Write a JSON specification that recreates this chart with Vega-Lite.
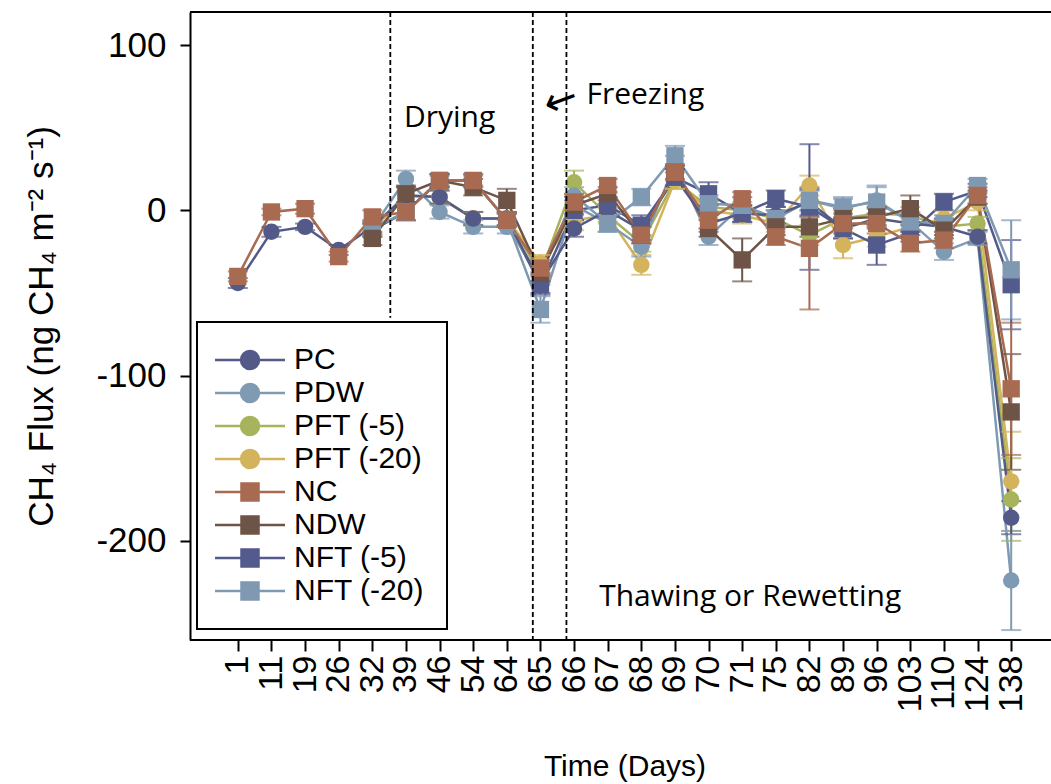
{
  "$schema": "https://vega.github.io/schema/vega-lite/v6.json",
  "autosize": "none",
  "padding": {"left": 190, "top": 12, "right": 0, "bottom": 144},
  "width": 861,
  "height": 628,
  "background": "white",
  "config": {
    "view": {"stroke": null},
    "font": "Liberation Sans",
    "axisX": {"titleFontSize": 30, "titleFontWeight": "normal", "titleColor": "black", "titlePadding": 40, "labelFontSize": 34, "labelAngle": 270, "labelPadding": 4, "labelColor": "black", "tickSize": 11, "tickWidth": 2, "tickColor": "black", "domain": false, "grid": false},
    "axisY": {"titleFontSize": 35, "titleFontWeight": "normal", "titleColor": "black", "titlePadding": 36, "labelFontSize": 35, "labelPadding": 14, "labelColor": "black", "tickSize": 10, "tickWidth": 2, "tickColor": "black", "domainColor": "black", "domainWidth": 2, "grid": false},
    "legend": {"title": null, "orient": "none", "legendX": 7, "legendY": 310, "padding": 23, "strokeColor": "black", "strokeWidth": 2, "fillColor": "white", "labelFontSize": 30, "labelFont": "Liberation Sans", "labelColor": "black", "labelLimit": 400, "symbolSize": 400, "symbolOffset": 15, "labelOffset": 29, "rowPadding": 3, "symbolStrokeWidth": 2.5, "symbolOpacity": 1}
  },
  "data": {"values": [
    {"treatment": "PFT (-5)", "day": 32, "flux": -12, "se": 4},
    {"treatment": "PFT (-5)", "day": 39, "flux": 9, "se": 5},
    {"treatment": "PFT (-5)", "day": 46, "flux": 8, "se": 4},
    {"treatment": "PFT (-5)", "day": 54, "flux": -5, "se": 4},
    {"treatment": "PFT (-5)", "day": 64, "flux": -5, "se": 4},
    {"treatment": "PFT (-5)", "day": 65, "flux": -38, "se": 5},
    {"treatment": "PFT (-5)", "day": 66, "flux": 17, "se": 7},
    {"treatment": "PFT (-5)", "day": 67, "flux": -3, "se": 4},
    {"treatment": "PFT (-5)", "day": 68, "flux": -20, "se": 5},
    {"treatment": "PFT (-5)", "day": 69, "flux": 18, "se": 5},
    {"treatment": "PFT (-5)", "day": 70, "flux": 2, "se": 5},
    {"treatment": "PFT (-5)", "day": 71, "flux": 0, "se": 5},
    {"treatment": "PFT (-5)", "day": 75, "flux": -5, "se": 5},
    {"treatment": "PFT (-5)", "day": 82, "flux": -15, "se": 6},
    {"treatment": "PFT (-5)", "day": 89, "flux": -5, "se": 5},
    {"treatment": "PFT (-5)", "day": 96, "flux": -2, "se": 5},
    {"treatment": "PFT (-5)", "day": 103, "flux": -3, "se": 5},
    {"treatment": "PFT (-5)", "day": 110, "flux": -10, "se": 5},
    {"treatment": "PFT (-5)", "day": 124, "flux": -8, "se": 4},
    {"treatment": "PFT (-5)", "day": 138, "flux": -175, "se": 25},
    {"treatment": "PFT (-20)", "day": 32, "flux": -12, "se": 4},
    {"treatment": "PFT (-20)", "day": 39, "flux": 9, "se": 5},
    {"treatment": "PFT (-20)", "day": 46, "flux": 8, "se": 4},
    {"treatment": "PFT (-20)", "day": 54, "flux": -5, "se": 4},
    {"treatment": "PFT (-20)", "day": 64, "flux": -5, "se": 4},
    {"treatment": "PFT (-20)", "day": 65, "flux": -32, "se": 5},
    {"treatment": "PFT (-20)", "day": 66, "flux": -6, "se": 6},
    {"treatment": "PFT (-20)", "day": 67, "flux": -3, "se": 5},
    {"treatment": "PFT (-20)", "day": 68, "flux": -33, "se": 6},
    {"treatment": "PFT (-20)", "day": 69, "flux": 18, "se": 5},
    {"treatment": "PFT (-20)", "day": 70, "flux": 0, "se": 5},
    {"treatment": "PFT (-20)", "day": 71, "flux": -3, "se": 5},
    {"treatment": "PFT (-20)", "day": 75, "flux": -8, "se": 5},
    {"treatment": "PFT (-20)", "day": 82, "flux": 15, "se": 6},
    {"treatment": "PFT (-20)", "day": 89, "flux": -21, "se": 8},
    {"treatment": "PFT (-20)", "day": 96, "flux": -16, "se": 6},
    {"treatment": "PFT (-20)", "day": 103, "flux": -10, "se": 5},
    {"treatment": "PFT (-20)", "day": 110, "flux": -5, "se": 5},
    {"treatment": "PFT (-20)", "day": 124, "flux": 5, "se": 5},
    {"treatment": "PFT (-20)", "day": 138, "flux": -164, "se": 30},
    {"treatment": "NFT (-5)", "day": 32, "flux": -12, "se": 4},
    {"treatment": "NFT (-5)", "day": 39, "flux": -1, "se": 5},
    {"treatment": "NFT (-5)", "day": 46, "flux": 18, "se": 4},
    {"treatment": "NFT (-5)", "day": 54, "flux": 18, "se": 4},
    {"treatment": "NFT (-5)", "day": 64, "flux": -6, "se": 4},
    {"treatment": "NFT (-5)", "day": 65, "flux": -45, "se": 6},
    {"treatment": "NFT (-5)", "day": 66, "flux": 0, "se": 6},
    {"treatment": "NFT (-5)", "day": 67, "flux": 3, "se": 5},
    {"treatment": "NFT (-5)", "day": 68, "flux": -9, "se": 6},
    {"treatment": "NFT (-5)", "day": 69, "flux": 20, "se": 5},
    {"treatment": "NFT (-5)", "day": 70, "flux": 10, "se": 7},
    {"treatment": "NFT (-5)", "day": 71, "flux": -2, "se": 5},
    {"treatment": "NFT (-5)", "day": 75, "flux": 7, "se": 5},
    {"treatment": "NFT (-5)", "day": 82, "flux": 2, "se": 38},
    {"treatment": "NFT (-5)", "day": 89, "flux": -11, "se": 6},
    {"treatment": "NFT (-5)", "day": 96, "flux": -21, "se": 12},
    {"treatment": "NFT (-5)", "day": 103, "flux": -14, "se": 5},
    {"treatment": "NFT (-5)", "day": 110, "flux": 5, "se": 5},
    {"treatment": "NFT (-5)", "day": 124, "flux": 12, "se": 4},
    {"treatment": "NFT (-5)", "day": 138, "flux": -45, "se": 27},
    {"treatment": "NFT (-20)", "day": 32, "flux": -11, "se": 4},
    {"treatment": "NFT (-20)", "day": 39, "flux": -1, "se": 5},
    {"treatment": "NFT (-20)", "day": 46, "flux": 18, "se": 4},
    {"treatment": "NFT (-20)", "day": 54, "flux": 18, "se": 4},
    {"treatment": "NFT (-20)", "day": 64, "flux": -6, "se": 4},
    {"treatment": "NFT (-20)", "day": 65, "flux": -60, "se": 8},
    {"treatment": "NFT (-20)", "day": 66, "flux": 3, "se": 6},
    {"treatment": "NFT (-20)", "day": 67, "flux": -8, "se": 5},
    {"treatment": "NFT (-20)", "day": 68, "flux": 8, "se": 5},
    {"treatment": "NFT (-20)", "day": 69, "flux": 33, "se": 6},
    {"treatment": "NFT (-20)", "day": 70, "flux": 4, "se": 5},
    {"treatment": "NFT (-20)", "day": 71, "flux": 3, "se": 5},
    {"treatment": "NFT (-20)", "day": 75, "flux": -5, "se": 5},
    {"treatment": "NFT (-20)", "day": 82, "flux": 6, "se": 6},
    {"treatment": "NFT (-20)", "day": 89, "flux": 2, "se": 6},
    {"treatment": "NFT (-20)", "day": 96, "flux": 5, "se": 10},
    {"treatment": "NFT (-20)", "day": 103, "flux": -7, "se": 6},
    {"treatment": "NFT (-20)", "day": 110, "flux": -8, "se": 5},
    {"treatment": "NFT (-20)", "day": 124, "flux": 15, "se": 4},
    {"treatment": "NFT (-20)", "day": 138, "flux": -36, "se": 30},
    {"treatment": "PDW", "day": 32, "flux": -11, "se": 4},
    {"treatment": "PDW", "day": 39, "flux": 19, "se": 5},
    {"treatment": "PDW", "day": 46, "flux": -1, "se": 4},
    {"treatment": "PDW", "day": 54, "flux": -10, "se": 4},
    {"treatment": "PDW", "day": 64, "flux": -10, "se": 4},
    {"treatment": "PDW", "day": 65, "flux": -40, "se": 5},
    {"treatment": "PDW", "day": 66, "flux": 9, "se": 5},
    {"treatment": "PDW", "day": 67, "flux": -8, "se": 5},
    {"treatment": "PDW", "day": 68, "flux": -22, "se": 6},
    {"treatment": "PDW", "day": 69, "flux": 28, "se": 5},
    {"treatment": "PDW", "day": 70, "flux": -16, "se": 5},
    {"treatment": "PDW", "day": 71, "flux": 3, "se": 5},
    {"treatment": "PDW", "day": 75, "flux": -5, "se": 5},
    {"treatment": "PDW", "day": 82, "flux": 6, "se": 6},
    {"treatment": "PDW", "day": 89, "flux": 1, "se": 6},
    {"treatment": "PDW", "day": 96, "flux": 6, "se": 8},
    {"treatment": "PDW", "day": 103, "flux": -7, "se": 5},
    {"treatment": "PDW", "day": 110, "flux": -25, "se": 5},
    {"treatment": "PDW", "day": 124, "flux": -17, "se": 4},
    {"treatment": "PDW", "day": 138, "flux": -224, "se": 30},
    {"treatment": "NDW", "day": 32, "flux": -17, "se": 4},
    {"treatment": "NDW", "day": 39, "flux": 10, "se": 5},
    {"treatment": "NDW", "day": 46, "flux": 18, "se": 4},
    {"treatment": "NDW", "day": 54, "flux": 14, "se": 5},
    {"treatment": "NDW", "day": 64, "flux": 6, "se": 7},
    {"treatment": "NDW", "day": 65, "flux": -38, "se": 5},
    {"treatment": "NDW", "day": 66, "flux": 3, "se": 5},
    {"treatment": "NDW", "day": 67, "flux": 10, "se": 4},
    {"treatment": "NDW", "day": 68, "flux": -15, "se": 5},
    {"treatment": "NDW", "day": 69, "flux": 23, "se": 4},
    {"treatment": "NDW", "day": 70, "flux": -11, "se": 5},
    {"treatment": "NDW", "day": 71, "flux": -30, "se": 13},
    {"treatment": "NDW", "day": 75, "flux": -10, "se": 5},
    {"treatment": "NDW", "day": 82, "flux": -10, "se": 6},
    {"treatment": "NDW", "day": 89, "flux": -5, "se": 6},
    {"treatment": "NDW", "day": 96, "flux": -4, "se": 6},
    {"treatment": "NDW", "day": 103, "flux": 1, "se": 8},
    {"treatment": "NDW", "day": 110, "flux": -12, "se": 5},
    {"treatment": "NDW", "day": 124, "flux": 8, "se": 4},
    {"treatment": "NDW", "day": 138, "flux": -122, "se": 35},
    {"treatment": "PC", "day": 1, "flux": -44, "se": 3},
    {"treatment": "PC", "day": 11, "flux": -13, "se": 3},
    {"treatment": "PC", "day": 19, "flux": -10, "se": 2},
    {"treatment": "PC", "day": 26, "flux": -24, "se": 3},
    {"treatment": "PC", "day": 32, "flux": -10, "se": 4},
    {"treatment": "PC", "day": 39, "flux": 9, "se": 5},
    {"treatment": "PC", "day": 46, "flux": 8, "se": 4},
    {"treatment": "PC", "day": 54, "flux": -5, "se": 4},
    {"treatment": "PC", "day": 64, "flux": -5, "se": 4},
    {"treatment": "PC", "day": 65, "flux": -44, "se": 6},
    {"treatment": "PC", "day": 66, "flux": -11, "se": 5},
    {"treatment": "PC", "day": 67, "flux": 0, "se": 4},
    {"treatment": "PC", "day": 68, "flux": -12, "se": 6},
    {"treatment": "PC", "day": 69, "flux": 20, "se": 5},
    {"treatment": "PC", "day": 70, "flux": -8, "se": 5},
    {"treatment": "PC", "day": 71, "flux": -2, "se": 5},
    {"treatment": "PC", "day": 75, "flux": -3, "se": 5},
    {"treatment": "PC", "day": 82, "flux": 5, "se": 8},
    {"treatment": "PC", "day": 89, "flux": -11, "se": 6},
    {"treatment": "PC", "day": 96, "flux": -5, "se": 6},
    {"treatment": "PC", "day": 103, "flux": -8, "se": 5},
    {"treatment": "PC", "day": 110, "flux": -10, "se": 5},
    {"treatment": "PC", "day": 124, "flux": -16, "se": 4},
    {"treatment": "PC", "day": 138, "flux": -186, "se": 10},
    {"treatment": "NC", "day": 1, "flux": -40, "se": 3},
    {"treatment": "NC", "day": 11, "flux": -1, "se": 2},
    {"treatment": "NC", "day": 19, "flux": 1, "se": 3},
    {"treatment": "NC", "day": 26, "flux": -28, "se": 3},
    {"treatment": "NC", "day": 32, "flux": -4, "se": 4},
    {"treatment": "NC", "day": 39, "flux": -1, "se": 5},
    {"treatment": "NC", "day": 46, "flux": 18, "se": 3},
    {"treatment": "NC", "day": 54, "flux": 18, "se": 3},
    {"treatment": "NC", "day": 64, "flux": -6, "se": 4},
    {"treatment": "NC", "day": 65, "flux": -35, "se": 5},
    {"treatment": "NC", "day": 66, "flux": 5, "se": 5},
    {"treatment": "NC", "day": 67, "flux": 15, "se": 4},
    {"treatment": "NC", "day": 68, "flux": -15, "se": 5},
    {"treatment": "NC", "day": 69, "flux": 23, "se": 5},
    {"treatment": "NC", "day": 70, "flux": -6, "se": 5},
    {"treatment": "NC", "day": 71, "flux": 7, "se": 4},
    {"treatment": "NC", "day": 75, "flux": -16, "se": 5},
    {"treatment": "NC", "day": 82, "flux": -23, "se": 37},
    {"treatment": "NC", "day": 89, "flux": -8, "se": 6},
    {"treatment": "NC", "day": 96, "flux": -8, "se": 6},
    {"treatment": "NC", "day": 103, "flux": -20, "se": 5},
    {"treatment": "NC", "day": 110, "flux": -18, "se": 5},
    {"treatment": "NC", "day": 124, "flux": 9, "se": 5},
    {"treatment": "NC", "day": 138, "flux": -108, "se": 40}
  ]},
  "layer": [
    {
      "data": {"values": [{}]},
      "mark": {"type": "rule", "color": "black", "strokeWidth": 2},
      "encoding": {"y": {"datum": 120}}
    },
    {
      "data": {"values": [{}]},
      "mark": {"type": "rule", "color": "black", "strokeWidth": 2},
      "encoding": {"y": {"datum": -260}}
    },
    {
      "mark": {"type": "line", "strokeWidth": 2.5},
      "encoding": {
        "x": {"field": "day", "type": "ordinal", "title": "Time (Days)", "scale": {"type": "point", "range": [31, 838]}},
        "y": {"field": "flux", "type": "quantitative", "title": "CH₄ Flux (ng CH₄ m⁻² s⁻¹)", "scale": {"domain": [-260, 120], "nice": false, "zero": false}, "axis": {"values": [-200, -100, 0, 100], "labelExpr": "'' + datum.value"}},
        "color": {"field": "treatment", "type": "nominal",
          "scale": {"domain": ["PC", "PDW", "PFT (-5)", "PFT (-20)", "NC", "NDW", "NFT (-5)", "NFT (-20)"],
                    "range": ["#535a88", "#7f9ab3", "#a8b45c", "#d3b35c", "#a86a50", "#6d5447", "#535a8c", "#8099b3"]}}
      }
    },
    {
      "mark": {"type": "errorbar", "thickness": 2, "ticks": {"size": 20, "thickness": 2}},
      "encoding": {
        "x": {"field": "day", "type": "ordinal", "title": "Time (Days)"},
        "y": {"field": "flux", "type": "quantitative", "title": "CH₄ Flux (ng CH₄ m⁻² s⁻¹)"},
        "yError": {"field": "se"},
        "color": {"field": "treatment", "type": "nominal"}
      }
    },
    {
      "transform": [{"filter": {"field": "treatment", "oneOf": ["PC", "PDW", "PFT (-5)", "PFT (-20)"]}}],
      "mark": {"type": "point", "shape": "circle", "filled": true, "opacity": 1, "size": 270},
      "encoding": {
        "x": {"field": "day", "type": "ordinal", "title": "Time (Days)"},
        "y": {"field": "flux", "type": "quantitative", "title": "CH₄ Flux (ng CH₄ m⁻² s⁻¹)"},
        "color": {"field": "treatment", "type": "nominal"}
      }
    },
    {
      "transform": [{"filter": {"field": "treatment", "oneOf": ["NC", "NDW", "NFT (-5)", "NFT (-20)"]}}],
      "mark": {"type": "point", "shape": "square", "filled": true, "opacity": 1, "size": 300},
      "encoding": {
        "x": {"field": "day", "type": "ordinal", "title": "Time (Days)"},
        "y": {"field": "flux", "type": "quantitative", "title": "CH₄ Flux (ng CH₄ m⁻² s⁻¹)"},
        "color": {"field": "treatment", "type": "nominal"}
      }
    },
    {
      "transform": [{"filter": {"field": "flux", "gt": 1000}}],
      "mark": {"type": "point", "filled": true, "opacity": 1},
      "encoding": {
        "x": {"field": "day", "type": "ordinal", "title": "Time (Days)"},
        "y": {"field": "flux", "type": "quantitative", "title": "CH₄ Flux (ng CH₄ m⁻² s⁻¹)"},
        "color": {"field": "treatment", "type": "nominal",
          "legend": {"title": null,
            "encode": {"symbols": {"update": {"stroke": {"scale": "color", "field": "value"}, "fill": {"scale": "color", "field": "value"}, "opacity": {"value": 1}, "strokeWidth": {"value": 2.5}}}}}},
        "shape": {"field": "treatment", "type": "nominal",
          "scale": {"domain": ["PC", "PDW", "PFT (-5)", "PFT (-20)", "NC", "NDW", "NFT (-5)", "NFT (-20)"],
                    "range": ["M-3.5,0L3.5,0M-0.9,0A0.9,0.9,0,1,0,0.9,0A0.9,0.9,0,1,0,-0.9,0Z", "M-3.5,0L3.5,0M-0.9,0A0.9,0.9,0,1,0,0.9,0A0.9,0.9,0,1,0,-0.9,0Z", "M-3.5,0L3.5,0M-0.9,0A0.9,0.9,0,1,0,0.9,0A0.9,0.9,0,1,0,-0.9,0Z", "M-3.5,0L3.5,0M-0.9,0A0.9,0.9,0,1,0,0.9,0A0.9,0.9,0,1,0,-0.9,0Z", "M-3.5,0L3.5,0M-0.85,-0.85L0.85,-0.85L0.85,0.85L-0.85,0.85Z", "M-3.5,0L3.5,0M-0.85,-0.85L0.85,-0.85L0.85,0.85L-0.85,0.85Z", "M-3.5,0L3.5,0M-0.85,-0.85L0.85,-0.85L0.85,0.85L-0.85,0.85Z", "M-3.5,0L3.5,0M-0.85,-0.85L0.85,-0.85L0.85,0.85L-0.85,0.85Z"]},
          "legend": {"title": null}}
      }
    },
    {
      "data": {"values": [{}]},
      "mark": {"type": "rule", "color": "black", "strokeWidth": 1.8, "strokeDash": [5, 3], "xOffset": 18},
      "encoding": {"x": {"datum": 32, "type": "ordinal"}, "y": {"datum": 120}, "y2": {"datum": -65}}
    },
    {
      "data": {"values": [{}]},
      "mark": {"type": "rule", "color": "black", "strokeWidth": 1.8, "strokeDash": [5, 3], "xOffset": 26},
      "encoding": {"x": {"datum": 64, "type": "ordinal"}, "y": {"datum": 120}, "y2": {"datum": -260}}
    },
    {
      "data": {"values": [{}]},
      "mark": {"type": "rule", "color": "black", "strokeWidth": 1.8, "strokeDash": [5, 3], "xOffset": 26},
      "encoding": {"x": {"datum": 65, "type": "ordinal"}, "y": {"datum": 120}, "y2": {"datum": -260}}
    },
    {
      "data": {"values": [{}]},
      "mark": {"type": "text", "text": "Drying", "font": "Open Sans", "fontSize": 30, "color": "black", "dx": 10},
      "encoding": {"x": {"datum": 46, "type": "ordinal"}, "y": {"datum": 56}}
    },
    {
      "data": {"values": [{}]},
      "mark": {"type": "text", "text": "Freezing", "font": "Open Sans", "fontSize": 30, "color": "black", "dx": 4},
      "encoding": {"x": {"datum": 68, "type": "ordinal"}, "y": {"datum": 70}}
    },
    {
      "data": {"values": [{}]},
      "mark": {"type": "text", "text": "←", "font": "DejaVu Sans", "fontSize": 40, "color": "black", "dx": -14, "angle": 340},
      "encoding": {"x": {"datum": 66, "type": "ordinal"}, "y": {"datum": 69}}
    },
    {
      "data": {"values": [{}]},
      "mark": {"type": "text", "text": "Thawing or Rewetting", "font": "Open Sans", "fontSize": 30, "color": "black", "dx": 8},
      "encoding": {"x": {"datum": 71, "type": "ordinal"}, "y": {"datum": -234}}
    }
  ]
}
